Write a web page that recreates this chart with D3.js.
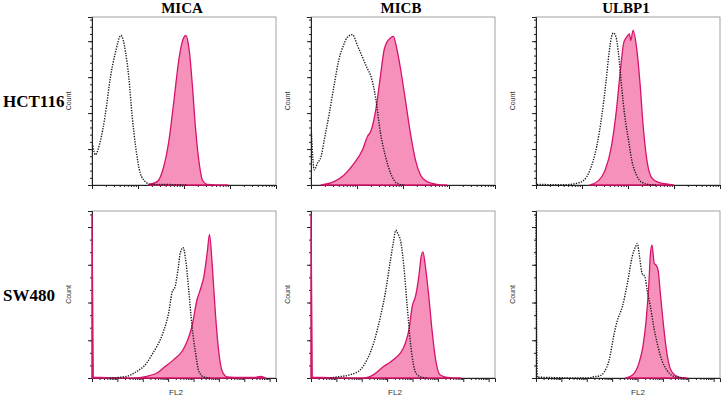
<!DOCTYPE html>
<html>
<head>
<meta charset="utf-8">
<script src="https://cdn.jsdelivr.net/npm/d3@7"></script>
<style>
  body { margin: 0; background: #fff; }
  svg { display: block; }
</style>
</head>
<body>
<script>
var svgWidth = 724;
var svgHeight = 397;

// column / row names
var markers = ["MICA", "MICB", "ULBP1"];
var cellLines = ["HCT116", "SW480"];

// each point: [log10(FL2), count in % of full scale]
// HCT116 (4 decade axis)
var micaHctCtrl = [[0.02,23.5],[0.07,18],[0.18,26],[0.29,42],[0.4,64],[0.51,79],[0.63,89],[0.73,79],[0.8,64],[0.87,42],[0.95,22.5],[1.05,7],[1.16,2],[1.27,0.4],[1.64,0.3],[2.07,0]];
var micaHctStain = [[1.24,0.4],[1.42,2],[1.56,11],[1.67,26],[1.78,50],[1.89,75],[1.96,85],[2.04,89],[2.11,81],[2.18,60],[2.25,34],[2.33,13],[2.4,3],[2.51,0.4],[2.95,0]];
var micbHctCtrl = [[0.01,31],[0.07,9],[0.14,13],[0.22,17],[0.29,27],[0.4,43],[0.5,59],[0.61,75],[0.72,84],[0.79,88],[0.9,89.5],[1.01,83],[1.12,76],[1.23,69],[1.3,65],[1.41,51],[1.51,31],[1.62,17],[1.73,7],[1.87,1],[2.02,0]];
var micbHctStain = [[0.22,0],[0.5,2],[0.72,6],[0.94,13],[1.12,21],[1.23,29],[1.3,32],[1.41,45],[1.51,65],[1.59,80.5],[1.66,85.5],[1.73,87.5],[1.79,88.5],[1.87,80.5],[1.95,68.6],[2.05,51],[2.16,31],[2.27,15],[2.38,6],[2.52,2],[2.74,0.4],[2.95,0]];
var ulbpHctCtrl = [[0.02,0.3],[0.67,0.2],[0.88,1],[1.03,2.6],[1.17,8.6],[1.32,23],[1.43,41],[1.52,61],[1.59,79],[1.64,88],[1.68,90.5],[1.74,88],[1.79,79],[1.86,59],[1.93,41],[2.01,27],[2.08,15],[2.19,5.6],[2.3,1.6],[2.48,0.2],[2.62,0]];
var ulbpHctStain = [[1.17,0],[1.36,2.6],[1.5,8.6],[1.64,23],[1.75,45],[1.83,67],[1.91,85],[1.97,88],[2.03,90],[2.06,86],[2.11,92],[2.19,81],[2.26,61],[2.33,35],[2.41,15],[2.51,4.6],[2.66,1.6],[2.84,0.6],[2.99,0]];

// SW480 (7.25 decade axis)
var micaSwCtrl = [[0.7,0],[1.37,1],[1.77,4],[2.16,9],[2.36,14],[2.56,19],[2.82,28],[3.02,39],[3.15,51],[3.28,55],[3.39,65],[3.48,75],[3.59,78],[3.68,72],[3.81,53],[3.94,31],[4.08,15],[4.21,4],[4.41,0.6],[4.67,0]];
var micaSwStain = [[0.0,98],[0.05,0.5],[1.64,0],[2.16,1],[2.56,3],[2.89,7],[3.22,11],[3.55,16],[3.75,22],[3.94,31],[4.14,47],[4.27,53],[4.41,61],[4.54,75],[4.63,86],[4.74,67],[4.87,37],[5.0,15],[5.13,4],[5.33,0.6],[5.6,0.4],[6.4,0.3],[6.65,1],[6.85,0]];
var micbSwCtrl = [[0.76,0],[1.03,0.6],[1.55,2],[1.95,5],[2.21,11],[2.47,21],[2.74,37],[2.93,51],[3.13,70.5],[3.26,82.5],[3.34,88.5],[3.42,86.5],[3.55,80.5],[3.66,66.6],[3.79,43],[3.92,21],[4.05,7],[4.18,2],[4.38,0.4],[4.6,0]];
var micbSwStain = [[0.0,98],[0.05,0.5],[2.08,0],[2.47,2],[2.87,7],[3.07,9],[3.33,12],[3.53,15],[3.72,21],[3.86,29],[3.99,43],[4.12,49],[4.25,61],[4.34,72.6],[4.41,75.5],[4.51,66.6],[4.64,49],[4.78,27],[4.91,11],[5.08,2],[5.37,0.4],[5.9,0]];
var ulbpSwCtrl = [[0.0,98],[0.05,0.5],[2.1,0],[2.23,0.6],[2.49,1.2],[2.69,3.6],[2.88,10.6],[3.08,26.6],[3.21,34.6],[3.4,42.6],[3.6,56.6],[3.79,72.6],[3.92,78.6],[3.99,80.6],[4.08,72.6],[4.18,62.6],[4.29,60.6],[4.38,52.6],[4.51,42.6],[4.64,30.6],[4.81,18.6],[4.96,10.6],[5.16,4.6],[5.35,1.6],[5.68,0.2],[5.9,0]];
var ulbpSwStain = [[3.53,0],[3.79,1.6],[4.05,8.6],[4.21,18.6],[4.34,34.6],[4.44,54.6],[4.51,74.6],[4.57,79.6],[4.66,68.6],[4.73,67.6],[4.81,64.6],[4.9,50.6],[5.03,30.6],[5.16,14.6],[5.29,5.6],[5.48,1.6],[5.74,0.2],[5.95,0]];

// axis settings per row
var rowDecades = [4, 7.25];
var rowMajorStep = [21.4, 22.6];   // y major tick spacing (% of full scale)
var rowMinorPerMajor = [5, 3];

var panels = [
    [{ctrl: micaHctCtrl, stain: micaHctStain}, {ctrl: micbHctCtrl, stain: micbHctStain}, {ctrl: ulbpHctCtrl, stain: ulbpHctStain}],
    [{ctrl: micaSwCtrl, stain: micaSwStain}, {ctrl: micbSwCtrl, stain: micbSwStain}, {ctrl: ulbpSwCtrl, stain: ulbpSwStain}]
];

// layout
var colLeft = [92, 311, 536];
var colWidth = 184;
var rowTop = [17, 211];
var rowHeight = [168, 167];
var fl2X = [176, 395, 638];

var svg = d3.select('body').append('svg')
    .attr('width', svgWidth)
    .attr('height', svgHeight);

// column titles
markers.forEach((m, i) => {
    svg.append('text')
        .attr('x', colLeft[i] + colWidth / 2 - 2)
        .attr('y', 13)
        .attr('text-anchor', 'middle')
        .style('font-family', '"Liberation Serif", "Times New Roman", serif')
        .style('font-weight', 'bold')
        .style('font-size', '15px')
        .text(m);
});

// row labels
cellLines.forEach((c, r) => {
    svg.append('text')
        .attr('x', 3)
        .attr('y', rowTop[r] + rowHeight[r] / 2 + 6)
        .style('font-family', '"Liberation Serif", "Times New Roman", serif')
        .style('font-weight', 'bold')
        .style('font-size', '17px')
        .text(c);
});

panels.forEach((row, r) => {
    row.forEach((p, c) => {
        var w = colWidth, h = rowHeight[r];
        var g = svg.append('g')
            .attr('transform', `translate(${colLeft[c]}, ${rowTop[r]})`);

        var x = d3.scaleLinear().domain([0, rowDecades[r]]).range([0, w]);
        var y = d3.scaleLinear().domain([0, 100]).range([h, 0]);

        // frame
        g.append('rect')
            .attr('width', w).attr('height', h)
            .attr('fill', 'none')
            .attr('stroke', '#8a8a8a')
            .attr('stroke-width', 0.8);

        // x axis: log decades with minor ticks
        var majors = d3.range(0, Math.floor(rowDecades[r]) + 1);
        var minors = [];
        majors.forEach(dec => {
            for (var k = 2; k <= 9; k++) {
                var v = dec + Math.log10(k);
                if (v < rowDecades[r]) minors.push(v);
            }
        });
        var xAxis = g.append('g').attr('transform', `translate(0, ${h})`);
        xAxis.call(d3.axisBottom(x).tickValues(majors).tickSize(4).tickFormat(''));
        xAxis.append('g').call(d3.axisBottom(x).tickValues(minors).tickSize(2).tickFormat(''))
            .select('.domain').remove();

        // y axis: major + minor ticks
        var yMajors = d3.range(0, 100.01, rowMajorStep[r]);
        var yMinors = d3.range(0, 100.01, rowMajorStep[r] / rowMinorPerMajor[r]);
        var yAxis = g.append('g');
        yAxis.call(d3.axisLeft(y).tickValues(yMajors).tickSize(4).tickFormat(''));
        yAxis.append('g').call(d3.axisLeft(y).tickValues(yMinors).tickSize(2).tickFormat(''))
            .select('.domain').remove();
        g.selectAll('.domain').attr('stroke', '#222');
        g.selectAll('.tick line').attr('stroke', '#222');

        // stained histogram
        var area = d3.area()
            .x(d => x(d[0]))
            .y0(h)
            .y1(d => y(d[1]))
            .curve(d3.curveMonotoneX);
        g.append('path')
            .datum(p.stain)
            .attr('d', area)
            .attr('fill', '#f591ba')
            .attr('stroke', '#d6136b')
            .attr('stroke-width', 1.3)
            .attr('stroke-linejoin', 'round');

        // isotype control (dotted)
        var line = d3.line()
            .x(d => x(d[0]))
            .y(d => y(d[1]))
            .curve(d3.curveMonotoneX);
        g.append('path')
            .datum(p.ctrl)
            .attr('d', line)
            .attr('fill', 'none')
            .attr('stroke', '#1a1a1a')
            .attr('stroke-width', 1.4)
            .attr('stroke-dasharray', '1.3,1.3');

        // Count label
        g.append('text')
            .attr('transform', `translate(-21, ${h / 2}) rotate(-90)`)
            .attr('text-anchor', 'middle')
            .style('font-family', '"Liberation Sans", Arial, sans-serif')
            .style('font-size', '7px')
            .attr('fill', '#333')
            .text('Count');

        if (r === 1) {
            svg.append('text')
                .attr('x', fl2X[c])
                .attr('y', 395)
                .attr('text-anchor', 'middle')
                .style('font-family', '"Liberation Sans", Arial, sans-serif')
                .style('font-size', '8px')
                .attr('fill', '#333')
                .text('FL2');
        }
    });
});
</script>
</body>
</html>
